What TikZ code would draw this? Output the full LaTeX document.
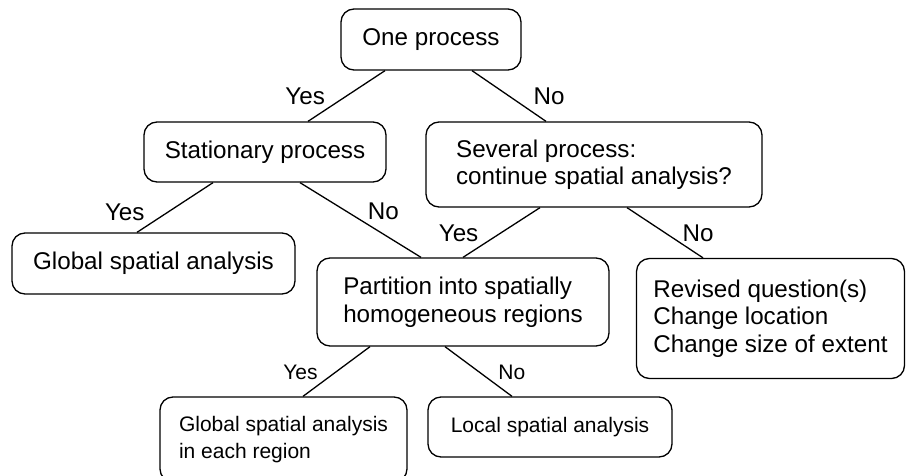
\documentclass[tikz,border=0pt]{standalone}
\usepackage{fontspec}
\setmainfont{Liberation Sans}
\usepackage{tikz}
\usetikzlibrary{positioning,calc}

\begin{document}
\begin{tikzpicture}
[x=1pt,y=-1pt,line width=1.3pt,
box/.style={draw,rounded corners=13pt,align=left,inner sep=0pt},
lbl/.style={inner sep=0pt},
smaller/.style={font=\fontsize{21}{26.5}\selectfont},
font=\fontsize{24.2}{27.5}\selectfont]
\useasboundingbox (0,0) rectangle (907,476);
\node (one) at (431,39.5)[box,minimum width=180pt,minimum height=61pt] {One process};
\node (stat) at (265,152)[box,minimum width=242pt,minimum height=60pt] {Stationary process};
\node (sev) at (594,164.5)[box,minimum width=336pt,minimum height=85pt] {Several process:\\continue spatial analysis?};
\node (glob) at (153.5,263.5)[box,minimum width=283pt,minimum height=61pt] {Global spatial analysis};
\node (part) at (463,302)[box,minimum width=292pt,minimum height=88pt] {Partition into spatially\\homogeneous regions};
\node (rev) at (770.5,318.5)[box,minimum width=268pt,minimum height=120pt] {Revised question(s)\\Change location\\Change size of extent};
\node (each) at (283.5,439.5)[box,smaller,minimum width=247pt,minimum height=85pt] {Global spatial analysis\\in each region};
\node (loc) at (550,427)[box,smaller,minimum width=244pt,minimum height=60pt] {Local spatial analysis};

\draw ([xshift=-46pt]one.south) -- node[lbl,pos=.5,left=21pt] {Yes} ([xshift=43pt]stat.north);
\draw ([xshift=41pt]one.south) -- node[lbl,pos=.5,right=24pt] {No} ([xshift=-48pt]sev.north);

\draw ([xshift=-52pt]stat.south) -- node[lbl,pos=.59,left=23pt] {Yes} ([xshift=-16.5pt]glob.north);
\draw ([xshift=35pt]stat.south) -- node[lbl,pos=.39,right=20pt] {No} ([xshift=-42pt]part.north);

\draw ([xshift=-54pt]sev.south) -- node[lbl,pos=.52,left=21pt] {Yes} (part.north);
\draw ([xshift=33pt]sev.south) -- node[lbl,pos=.52,right=15.5pt] {No} ([xshift=-67.5pt]rev.north);

\draw ([xshift=-93pt]part.south) -- node[lbl,smaller,pos=.52,left=17pt] {Yes} ([xshift=19.5pt]each.north);
\draw ([xshift=-18pt]part.south) -- node[lbl,smaller,pos=.52,right=18pt] {No} ([xshift=-38pt]loc.north);

\end{tikzpicture}
\end{document}
